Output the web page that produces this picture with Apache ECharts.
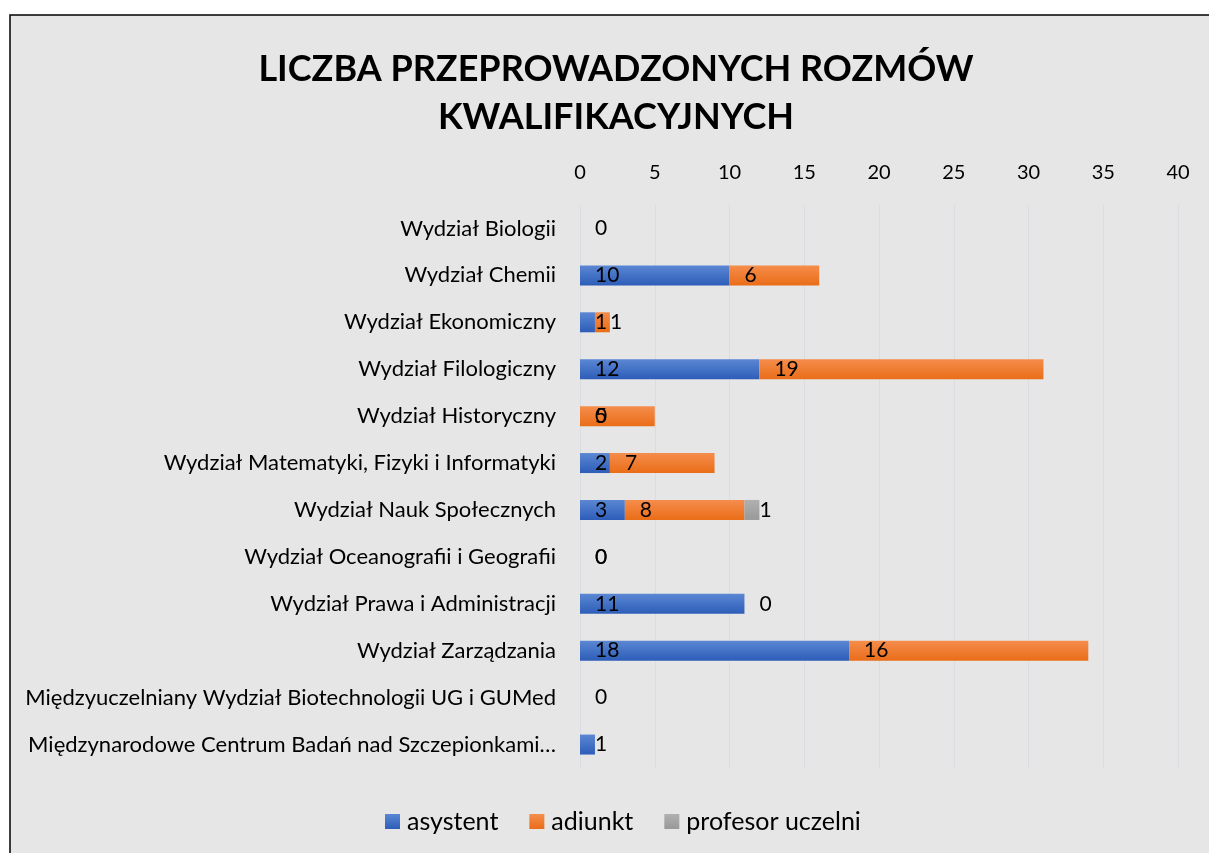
<!DOCTYPE html>
<html><head><meta charset="utf-8">
<script src="https://cdn.jsdelivr.net/npm/echarts@6/dist/echarts.min.js"></script>
<style>html,body{margin:0;padding:0;background:#fff}#c{width:1209px;height:853px}</style>
</head><body><div id="c"></div>
<script>
const categories = [
  'Wydział Biologii',
  'Wydział Chemii',
  'Wydział Ekonomiczny',
  'Wydział Filologiczny',
  'Wydział Historyczny',
  'Wydział Matematyki, Fizyki i Informatyki',
  'Wydział Nauk Społecznych',
  'Wydział Oceanografii i Geografii',
  'Wydział Prawa i Administracji',
  'Wydział Zarządzania',
  'Międzyuczelniany Wydział Biotechnologii UG i GUMed',
  'Międzynarodowe Centrum Badań nad Szczepionkami…'
];
const asystent = [0, 10, 1, 12, 0, 2, 3, 0, 11, 18, 0, 1];
const adiunkt  = [null, 6, 1, 19, 5, 7, 8, 0, 0, 16, null, null];
const profesor = [null, null, null, null, null, null, 1, null, null, null, null, null];
const xTicks = {min: 0, max: 40, interval: 5};

const FONT = 'Lato, Carlito, Calibri, sans-serif';
function grad(top, bottom){
  return new echarts.graphic.LinearGradient(0,0,0,1,[{offset:0,color:top},{offset:1,color:bottom}]);
}
const label = {show:true, position:'insideLeft', distance:15, color:'#000', fontSize:21, fontFamily:FONT,
  formatter: p => (p.value === null || p.value === undefined) ? '' : String(p.value)};
const chart = echarts.init(document.getElementById('c'));
chart.setOption({
  backgroundColor:'#fff',
  animation:false,
  graphic:[{type:'rect', z:-10, silent:true, shape:{x:10,y:15,width:1300,height:900},
    style:{fill:'#e6e6e6', stroke:'#000', lineWidth:1.5}}],
  title:{text:'LICZBA PRZEPROWADZONYCH ROZMÓW\nKWALIFIKACYJNYCH', left:611, textAlign:'center', top:40,
    textStyle:{fontFamily:FONT, fontWeight:'bold', fontSize:36, lineHeight:48, color:'#000'}},
  legend:{bottom:14, left:380, itemWidth:15, itemHeight:15, itemGap:31, icon:'rect',
    textStyle:{fontFamily:FONT, fontSize:25, color:'#000', padding:[0,0,0,2]}},
  grid:{left:580, right:31, top:205, bottom:85, containLabel:false},
  xAxis:{type:'value', position:'top', min:xTicks.min, max:xTicks.max, interval:xTicks.interval,
    axisLine:{show:false}, axisTick:{show:false},
    axisLabel:{fontFamily:FONT, fontSize:20, color:'#000', margin:22},
    splitLine:{lineStyle:{color:'#d9dde3', width:1}}},
  yAxis:{type:'category', data:categories, inverse:true,
    axisLine:{show:false}, axisTick:{show:false},
    axisLabel:{fontFamily:FONT, fontSize:22, color:'#000', margin:24}},
  series:[
    {name:'asystent', type:'bar', stack:'s', data:asystent, barWidth:20, label:label,
      itemStyle:{color:grad('#5b87d3','#2d5db8')}, color:'#4472c4'},
    {name:'adiunkt', type:'bar', stack:'s', data:adiunkt, barWidth:20, label:label,
      itemStyle:{color:grad('#f58d4c','#ea6d18')}, color:'#ed7d31'},
    {name:'profesor uczelni', type:'bar', stack:'s', data:profesor, barWidth:20, label:label,
      itemStyle:{color:grad('#b0b0b0','#999999')}, color:'#a5a5a5'}
  ]
});
</script></body></html>
